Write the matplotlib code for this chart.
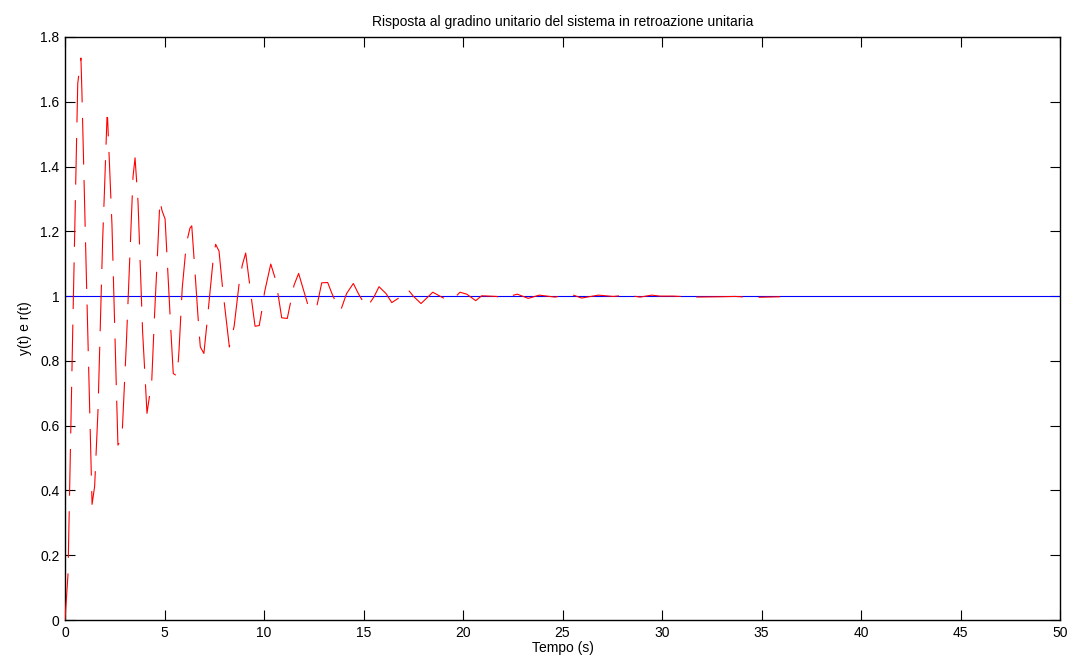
import matplotlib
matplotlib.use("Agg")
import matplotlib.pyplot as plt
import numpy as np

plt.rcParams['font.family'] = ['Liberation Sans', 'DejaVu Sans']

t = [0, 0.15, 0.39, 0.64, 0.74, 0.80, 0.85, 1.07, 1.36, 1.49, 1.66, 1.89, 1.98,
     2.11, 2.14, 2.36, 2.61, 2.66, 2.73, 2.86, 2.90, 3.08, 3.42, 3.52, 3.67, 3.90,
     4.05, 4.12, 4.36, 4.49, 4.64, 4.77, 4.87, 5.03, 5.31, 5.44, 5.64, 5.73, 5.89,
     6.10, 6.28, 6.37, 6.52, 6.73, 6.80, 6.98, 7.15, 7.45, 7.57, 7.74, 7.92, 8.26,
     8.50, 8.76, 8.91, 9.08, 9.30, 9.40, 9.55, 9.76, 9.91, 10.03, 10.34, 10.59,
     10.72, 10.89, 11.17, 11.34, 11.51, 11.74, 12.23, 12.56, 12.65, 12.90, 13.20,
     13.40, 13.73, 13.85, 14.15, 14.49, 14.74, 15.16, 15.53, 15.78, 16.13, 16.42,
     16.92, 17.20, 17.50, 17.89, 18.48, 19.05, 19.43, 19.85, 20.19, 20.64, 20.94,
     21.69, 21.94, 22.73, 23.28, 23.83, 24.62, 25.41, 25.96, 26.80, 27.55, 28.23,
     28.90, 29.48, 29.90, 30.57, 31.57, 32.91, 33.67, 34.59, 35.93]
y = [0, 0.14, 0.90, 1.656, 1.708, 1.735, 1.63, 1.07, 0.357, 0.413, 0.65, 1.17, 1.32,
     1.552, 1.55, 1.22, 0.65, 0.54, 0.547, 0.559, 0.612, 0.85, 1.37, 1.427, 1.29, 0.89,
     0.72, 0.638, 0.74, 0.929, 1.12, 1.296, 1.265, 1.238, 0.905, 0.761, 0.753, 0.833, 1.024,
     1.163, 1.21, 1.217, 1.086, 0.895, 0.843, 0.823, 0.926, 1.116, 1.16, 1.139, 1.024, 0.843,
     0.907, 1.044, 1.096, 1.133, 1.026, 0.977, 0.907, 0.909, 0.962, 1.013, 1.099, 1.049,
     1.0, 0.933, 0.931, 0.982, 1.034, 1.07, 0.968, 0.957, 0.967, 1.041, 1.042,
     1.01, 0.964, 0.955, 1.008, 1.039, 1.008, 0.964, 0.998, 1.029, 1.008, 0.98,
     1.0, 1.023, 1.0, 0.977, 1.012, 0.993, 0.986, 1.012, 1.006, 0.986, 1.001,
     0.999, 0.993, 1.006, 0.993, 1.003, 0.997, 1.006, 0.994, 1.003, 0.999, 1.003,
     0.997, 1.003, 1.0, 1.0, 0.997, 0.998, 0.999, 0.996, 0.998]

# unit step reference
r_t = [0, 50]
r = [1, 1]

fig = plt.figure(figsize=(10.74, 6.64), dpi=100)
ax = fig.add_axes([65/1074, 1-620/664, 995/1074, 583/664])

ax.plot(r_t, r, color='blue', linewidth=0.8, zorder=2)
ax.plot(t, y, color='red', linewidth=0.8, linestyle=(0, (42, 14)), zorder=3)

ax.set_xlim(0, 50)
ax.set_ylim(0, 1.8)
ax.set_xticks(np.arange(0, 51, 5))
ax.set_yticks(np.arange(0, 1.81, 0.2))
ax.set_yticklabels(['0', '0.2', '0.4', '0.6', '0.8', '1', '1.2', '1.4', '1.6', '1.8'])

ax.tick_params(direction='in', length=7, width=0.8, top=True, right=True,
               labelsize=10, pad=4)
for s in ax.spines.values():
    s.set_linewidth(1.0)

ax.set_title('Risposta al gradino unitario del sistema in retroazione unitaria',
             fontsize=10, pad=8)
ax.set_xlabel('Tempo (s)', fontsize=10, labelpad=1)
ax.set_ylabel('y(t) e r(t)', fontsize=10, labelpad=6)

fig.savefig('out.png', dpi=100)
